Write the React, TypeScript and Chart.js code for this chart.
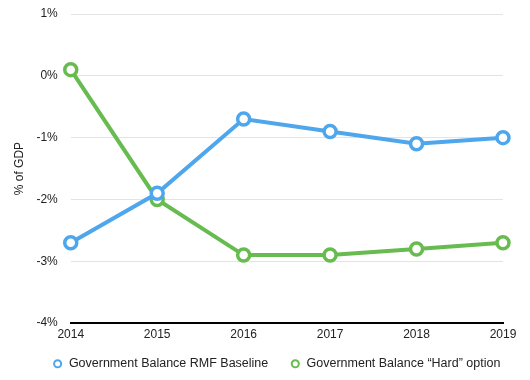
import React, { useEffect, useRef } from "react";
import { Chart, registerables } from "chart.js";

Chart.register(...registerables);

const years = ["2014", "2015", "2016", "2017", "2018", "2019"];
const baseline = [-2.7, -1.9, -0.7, -0.9, -1.1, -1.0];
const hardOption = [0.1, -2.0, -2.9, -2.9, -2.8, -2.7];
const seriesNames = ["Government Balance RMF Baseline", "Government Balance \u201cHard\u201d option"];
const yAxisTitle = "% of GDP";

const BLUE = "#4ea6ec";
const GREEN = "#67bb4f";

const legendShift = {
  id: "legendShift",
  afterLayout(chart: any) {
    const l = chart.legend;
    if (!l) return;
    l.left += 24;
    l.right += 24;
    l.top -= 10;
    l.bottom -= 10;
  },
};

export default function App() {
  const ref = useRef<HTMLCanvasElement | null>(null);
  useEffect(() => {
    if (!ref.current) return;
    Chart.defaults.font.family = "'Liberation Sans', Arial, Helvetica, sans-serif";
    const chart = new Chart(ref.current, {
      type: "line",
      data: {
        labels: years,
        datasets: [
          {
            label: seriesNames[0],
            data: baseline,
            borderColor: BLUE,
            backgroundColor: "#ffffff",
            borderWidth: 4,
            pointRadius: 6,
            pointBorderWidth: 3.5,
            pointBackgroundColor: "#ffffff",
            pointBorderColor: BLUE,
            tension: 0,
          },
          {
            label: seriesNames[1],
            data: hardOption,
            borderColor: GREEN,
            backgroundColor: "#ffffff",
            borderWidth: 4,
            pointRadius: 6,
            pointBorderWidth: 3.5,
            pointBackgroundColor: "#ffffff",
            pointBorderColor: GREEN,
            tension: 0,
          },
        ],
      },
      options: {
        animation: false,
        responsive: false,
        maintainAspectRatio: false,
        layout: { autoPadding: false, padding: { top: 14, right: 27, left: 2, bottom: -10 } },
        plugins: {
          tooltip: { enabled: false },
          legend: {
            position: "bottom",
            labels: {
              usePointStyle: true,
              pointStyle: "circle",
              boxWidth: 10,
              boxHeight: 5,
              padding: 22,
              color: "#222",
              font: { size: 12.5 },
              generateLabels: (c) => {
                const items = Chart.defaults.plugins.legend.labels.generateLabels(c);
                items.forEach((it) => {
                  it.lineWidth = 2;
                  it.fillStyle = "#ffffff";
                });
                return items;
              },
            },
          },
        },
        scales: {
          x: {
            offset: false,
            grid: { display: false, drawTicks: false },
            border: { display: true, color: "#000000", width: 2 },
            ticks: { color: "#222", font: { size: 12 }, padding: 4, maxRotation: 0 },
          },
          y: {
            min: -4,
            max: 1,
            grid: { color: "#e3e3e3", drawTicks: true, tickLength: 10, tickColor: "rgba(0,0,0,0)", lineWidth: 1 },
            border: { display: false },
            ticks: {
              stepSize: 1,
              color: "#222",
              font: { size: 12 },
              padding: 3,
              callback: (v) => `${v}%`,
            },
            title: { display: true, text: yAxisTitle, color: "#222", font: { size: 12 }, padding: { top: 10, bottom: 7 } },
          },
        },
      },
      plugins: [legendShift],
    });
    return () => chart.destroy();
  }, []);
  return (
    <div style={{ position: "fixed", left: 0, top: 0, width: 530, height: 380, background: "#fff" }}>
      <canvas ref={ref} width={530} height={380} style={{ width: 530, height: 380 }} />
    </div>
  );
}
